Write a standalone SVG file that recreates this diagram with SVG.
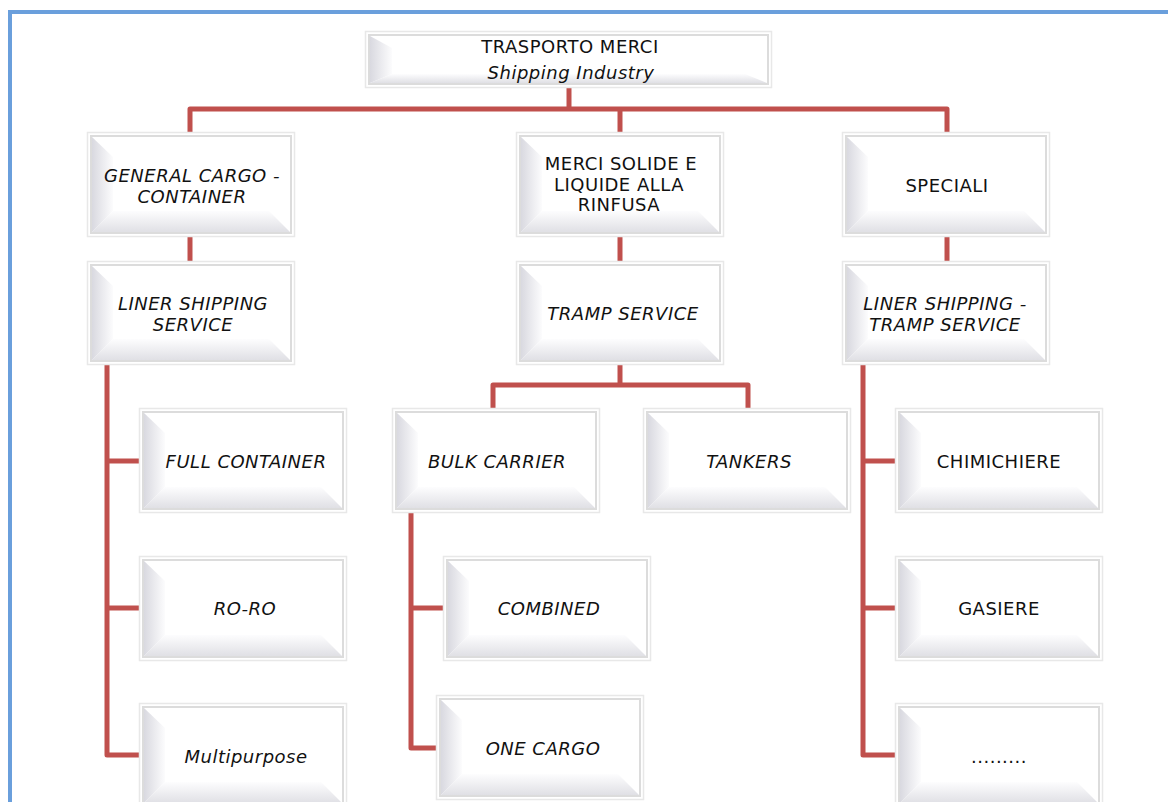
<svg xmlns="http://www.w3.org/2000/svg" width="1168" height="802" viewBox="0 0 1168 802">
  <defs>
    <linearGradient id="bevelLeft" x1="0" y1="0" x2="1" y2="0">
      <stop offset="0" stop-color="#d9d9e0"/>
      <stop offset="1" stop-color="#fcfcfd"/>
    </linearGradient>
    <linearGradient id="bevelBottom" x1="0" y1="0" x2="0" y2="1">
      <stop offset="0" stop-color="#fdfdfe"/>
      <stop offset="1" stop-color="#e0e0e5"/>
    </linearGradient>
    <style>
      .frame { fill: #ffffff; stroke: #e8e8e8; stroke-width: 1.5; }
      .face { fill: #ffffff; stroke: #dcdcdc; stroke-width: 2; }
      .bl { fill: url(#bevelLeft); }
      .bb { fill: url(#bevelBottom); }
      .lbl { font-family: "DejaVu Sans", Verdana, sans-serif; font-size: 18px; letter-spacing: 0.5px; fill: #111111; text-anchor: middle; }
      .it { font-style: italic; }
      .conn { fill: none; stroke: #c0504d; stroke-width: 5; stroke-linejoin: round; stroke-linecap: butt; }
      .border { fill: none; stroke: #6a9fdc; stroke-width: 4; }
    </style>
  </defs>

  <rect width="1168" height="802" fill="#ffffff"/>
  <path class="border" d="M10,802 V12 H1168"/>

  <!-- connectors -->
  <g id="connectors">
    <path class="conn" d="M569,88 V109"/>
    <path class="conn" d="M190,132 V109 H947 V132"/>
    <path class="conn" d="M620,109 V132"/>
    <path class="conn" d="M190,237 V261"/>
    <path class="conn" d="M620,237 V261"/>
    <path class="conn" d="M947,237 V261"/>
    <path class="conn" d="M107,365 V755 H139"/>
    <path class="conn" d="M107,461 H139"/>
    <path class="conn" d="M107,608 H139"/>
    <path class="conn" d="M620,365 V385"/>
    <path class="conn" d="M493,408 V385 H748 V408"/>
    <path class="conn" d="M411,513 V748 H436"/>
    <path class="conn" d="M411,608 H443"/>
    <path class="conn" d="M863,365 V755 H895"/>
    <path class="conn" d="M863,461 H895"/>
    <path class="conn" d="M863,608 H895"/>
  </g>

  <!-- root -->
  <g id="root">
    <rect class="frame" x="365.5" y="31.5" width="406" height="56"/>
    <rect class="face" x="369" y="35" width="399" height="49"/>
    <polygon class="bl" points="370,36 392,48 392,74 370,83"/>
    <polygon class="bb" points="370,83 392,74 745,74 767,83"/>
    <text class="lbl" x="570" y="53">TRASPORTO MERCI</text>
    <text class="lbl it" x="571" y="79">Shipping Industry</text>
  </g>

  <g id="general-cargo">
    <rect class="frame" x="87.5" y="132.5" width="207" height="104"/>
    <rect class="face" x="91" y="136" width="200" height="97"/>
    <polygon class="bl" points="92,137 113,157 113,211 92,232"/>
    <polygon class="bb" points="92,232 113,211 269,211 290,232"/>
    <text class="lbl it" x="192" y="182">GENERAL CARGO -</text>
    <text class="lbl it" x="192" y="203">CONTAINER</text>
  </g>

  <g id="merci-rinfusa">
    <rect class="frame" x="516.5" y="132.5" width="207" height="104"/>
    <rect class="face" x="520" y="136" width="200" height="97"/>
    <polygon class="bl" points="521,137 542,157 542,211 521,232"/>
    <polygon class="bb" points="521,232 542,211 698,211 719,232"/>
    <text class="lbl" x="621" y="170">MERCI SOLIDE E</text>
    <text class="lbl" x="619" y="191">LIQUIDE ALLA</text>
    <text class="lbl" x="619" y="211">RINFUSA</text>
  </g>

  <g id="speciali">
    <rect class="frame" x="842.5" y="132.5" width="207" height="104"/>
    <rect class="face" x="846" y="136" width="200" height="97"/>
    <polygon class="bl" points="847,137 868,157 868,211 847,232"/>
    <polygon class="bb" points="847,232 868,211 1024,211 1045,232"/>
    <text class="lbl" x="947" y="192">SPECIALI</text>
  </g>

  <g id="liner-shipping">
    <rect class="frame" x="87.5" y="261.5" width="207" height="103"/>
    <rect class="face" x="91" y="265" width="200" height="96"/>
    <polygon class="bl" points="92,266 113,286 113,339 92,360"/>
    <polygon class="bb" points="92,360 113,339 269,339 290,360"/>
    <text class="lbl it" x="193" y="310">LINER SHIPPING</text>
    <text class="lbl it" x="193" y="331">SERVICE</text>
  </g>

  <g id="tramp-service">
    <rect class="frame" x="516.5" y="261.5" width="207" height="103"/>
    <rect class="face" x="520" y="265" width="200" height="96"/>
    <polygon class="bl" points="521,266 542,286 542,339 521,360"/>
    <polygon class="bb" points="521,360 542,339 698,339 719,360"/>
    <text class="lbl it" x="623" y="320">TRAMP SERVICE</text>
  </g>

  <g id="liner-tramp">
    <rect class="frame" x="842.5" y="261.5" width="207" height="103"/>
    <rect class="face" x="846" y="265" width="200" height="96"/>
    <polygon class="bl" points="847,266 868,286 868,339 847,360"/>
    <polygon class="bb" points="847,360 868,339 1024,339 1045,360"/>
    <text class="lbl it" x="945" y="310">LINER SHIPPING -</text>
    <text class="lbl it" x="945" y="331">TRAMP SERVICE</text>
  </g>

  <g id="full-container">
    <rect class="frame" x="139.5" y="408.5" width="207" height="104"/>
    <rect class="face" x="143" y="412" width="200" height="97"/>
    <polygon class="bl" points="144,413 165,433 165,487 144,508"/>
    <polygon class="bb" points="144,508 165,487 321,487 342,508"/>
    <text class="lbl it" x="246" y="468">FULL CONTAINER</text>
  </g>

  <g id="ro-ro">
    <rect class="frame" x="139.5" y="556.5" width="207" height="104"/>
    <rect class="face" x="143" y="560" width="200" height="97"/>
    <polygon class="bl" points="144,561 165,581 165,635 144,656"/>
    <polygon class="bb" points="144,656 165,635 321,635 342,656"/>
    <text class="lbl it" x="245" y="615">RO-RO</text>
  </g>

  <g id="multipurpose">
    <rect class="frame" x="139.5" y="703.5" width="207" height="104"/>
    <rect class="face" x="143" y="707" width="200" height="97"/>
    <polygon class="bl" points="144,708 165,728 165,782 144,803"/>
    <polygon class="bb" points="144,803 165,782 321,782 342,803"/>
    <text class="lbl it" x="246" y="763">Multipurpose</text>
  </g>

  <g id="bulk-carrier">
    <rect class="frame" x="392.5" y="408.5" width="207" height="104"/>
    <rect class="face" x="396" y="412" width="200" height="97"/>
    <polygon class="bl" points="397,413 418,433 418,487 397,508"/>
    <polygon class="bb" points="397,508 418,487 574,487 595,508"/>
    <text class="lbl it" x="497" y="468">BULK CARRIER</text>
  </g>

  <g id="tankers">
    <rect class="frame" x="643.5" y="408.5" width="207" height="104"/>
    <rect class="face" x="647" y="412" width="200" height="97"/>
    <polygon class="bl" points="648,413 669,433 669,487 648,508"/>
    <polygon class="bb" points="648,508 669,487 825,487 846,508"/>
    <text class="lbl it" x="749" y="468">TANKERS</text>
  </g>

  <g id="combined">
    <rect class="frame" x="443.5" y="556.5" width="207" height="104"/>
    <rect class="face" x="447" y="560" width="200" height="97"/>
    <polygon class="bl" points="448,561 469,581 469,635 448,656"/>
    <polygon class="bb" points="448,656 469,635 625,635 646,656"/>
    <text class="lbl it" x="549" y="615">COMBINED</text>
  </g>

  <g id="one-cargo">
    <rect class="frame" x="436.5" y="695.5" width="207" height="104"/>
    <rect class="face" x="440" y="699" width="200" height="97"/>
    <polygon class="bl" points="441,700 462,720 462,774 441,795"/>
    <polygon class="bb" points="441,795 462,774 618,774 639,795"/>
    <text class="lbl it" x="543" y="755">ONE CARGO</text>
  </g>

  <g id="chimichiere">
    <rect class="frame" x="895.5" y="408.5" width="207" height="104"/>
    <rect class="face" x="899" y="412" width="200" height="97"/>
    <polygon class="bl" points="900,413 921,433 921,487 900,508"/>
    <polygon class="bb" points="900,508 921,487 1077,487 1098,508"/>
    <text class="lbl" x="999" y="468">CHIMICHIERE</text>
  </g>

  <g id="gasiere">
    <rect class="frame" x="895.5" y="556.5" width="207" height="104"/>
    <rect class="face" x="899" y="560" width="200" height="97"/>
    <polygon class="bl" points="900,561 921,581 921,635 900,656"/>
    <polygon class="bb" points="900,656 921,635 1077,635 1098,656"/>
    <text class="lbl" x="999" y="615">GASIERE</text>
  </g>

  <g id="others">
    <rect class="frame" x="895.5" y="703.5" width="207" height="104"/>
    <rect class="face" x="899" y="707" width="200" height="97"/>
    <polygon class="bl" points="900,708 921,728 921,782 900,803"/>
    <polygon class="bb" points="900,803 921,782 1077,782 1098,803"/>
    <text class="lbl" x="999" y="763">.........</text>
  </g>
</svg>
